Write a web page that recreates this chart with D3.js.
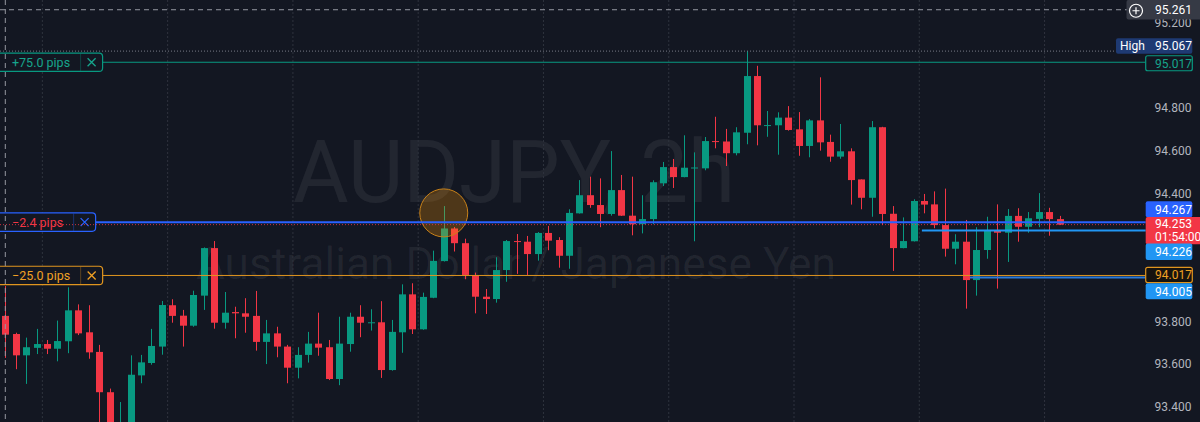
<!DOCTYPE html>
<html><head><meta charset="utf-8">
<script src="https://cdn.jsdelivr.net/npm/d3@7"></script>
<style>
html,body{margin:0;padding:0;background:#131722;overflow:hidden}
svg{display:block}
text{font-family:Roboto,"Noto Sans",sans-serif}
</style></head><body>
<svg id="c" width="1200" height="422"></svg>
<script>
// ---- data (AUDJPY, 2h candles) ----
const opens = [93.825,93.740,93.640,93.675,93.693,93.671,93.706,93.851,93.748,93.656,
93.467,93.173,93.290,93.546,93.604,93.681,93.875,93.826,93.779,93.920,
94.143,93.793,93.843,93.837,93.825,93.703,93.743,93.681,93.582,93.642,
93.695,93.678,93.529,93.693,93.821,93.793,93.795,93.571,93.748,93.926,
93.762,93.910,94.082,94.235,94.166,94.016,93.915,93.904,94.040,94.176,
94.173,94.115,94.214,94.181,94.107,94.306,94.391,94.345,94.303,94.415,
94.295,94.255,94.279,94.447,94.523,94.476,94.520,94.517,94.645,94.643,
94.588,94.684,94.950,94.719,94.719,94.755,94.700,94.622,94.742,94.641,
94.572,94.597,94.465,94.379,94.710,94.304,94.143,94.175,94.364,94.348,
94.251,94.140,94.173,93.993,94.134,94.226,94.215,94.294,94.243,94.280,
94.312,94.279];
const highs = [93.965,93.746,93.723,93.764,93.712,93.803,93.959,93.879,93.875,93.689,
93.484,93.421,93.640,93.642,93.764,93.895,93.903,93.853,93.943,94.146,
94.176,93.937,93.868,93.908,93.942,93.806,93.774,93.689,93.678,93.750,
93.840,93.712,93.821,93.840,93.875,93.856,93.894,93.806,93.973,93.978,
93.934,94.131,94.340,94.242,94.187,94.028,93.951,94.100,94.181,94.209,
94.200,94.218,94.247,94.194,94.325,94.462,94.478,94.470,94.598,94.486,
94.478,94.391,94.461,94.547,94.561,94.672,94.592,94.664,94.759,94.702,
94.710,95.067,94.998,94.786,94.780,94.809,94.781,94.748,94.944,94.675,
94.725,94.611,94.465,94.739,94.712,94.340,94.287,94.372,94.397,94.409,
94.422,94.208,94.275,94.241,94.290,94.348,94.326,94.330,94.312,94.401,
94.332,94.294];
const lows = [93.628,93.575,93.506,93.646,93.646,93.612,93.650,93.735,93.624,93.290,
93.126,93.090,93.262,93.509,93.596,93.643,93.793,93.681,93.774,93.853,
93.765,93.765,93.720,93.746,93.662,93.599,93.631,93.509,93.532,93.606,
93.638,93.524,93.500,93.657,93.725,93.756,93.534,93.568,93.652,93.740,
93.760,93.908,94.080,94.127,93.997,93.837,93.834,93.887,93.985,94.022,
94.017,94.084,94.133,94.051,94.046,94.305,94.332,94.241,94.295,94.294,
94.203,94.212,94.255,94.434,94.425,94.475,94.175,94.508,94.611,94.528,
94.578,94.630,94.625,94.665,94.581,94.694,94.576,94.569,94.600,94.548,
94.562,94.347,94.325,94.290,94.251,94.036,94.142,94.174,94.306,94.236,
94.103,94.067,93.859,93.920,94.093,93.953,94.078,94.173,94.215,94.241,
94.201,94.251];
const closes = [93.737,93.640,93.678,93.693,93.671,93.707,93.851,93.743,93.654,93.467,
93.173,93.290,93.549,93.607,93.684,93.876,93.825,93.779,93.923,94.143,
93.793,93.840,93.837,93.821,93.703,93.743,93.681,93.582,93.642,93.695,
93.676,93.529,93.695,93.821,93.793,93.795,93.571,93.750,93.926,93.762,
93.914,94.083,94.235,94.166,94.017,93.915,93.904,94.040,94.176,94.172,
94.115,94.214,94.178,94.107,94.308,94.391,94.345,94.303,94.415,94.295,
94.255,94.279,94.452,94.523,94.476,94.520,94.521,94.645,94.643,94.588,
94.686,94.950,94.719,94.720,94.755,94.697,94.622,94.742,94.639,94.572,
94.597,94.462,94.379,94.710,94.303,94.143,94.176,94.364,94.347,94.251,
94.140,94.173,93.993,94.134,94.228,94.215,94.294,94.243,94.283,94.312,
94.279,94.253];

const tickPrices = [93.4, 93.6, 93.8, 94.4, 94.6, 94.8, 95.2];
const crossPrice = 95.261, crossIdx = 0;
const highPrice = 95.067;
const pipPrices = [95.017, 94.267, 94.017];
const pipTexts = ["+75.0 pips", "\u22122.4 pips", "\u221225.0 pips"];
const lastPrice = 94.253, countdown = "01:54:00";
const rayPrices = [94.226, 94.005];
const rayStartIdx = [87.8, 92.4];
const markIdx = 42, markPrice = 94.308;
const titleText = "AUDJPY, 2h", subText = "Australian Dollar / Japanese Yen";

// ---- layout ----
const W = 1200, H = 422, paneRight = 1116, labX = 1145.7;
const UP = "#089981", DOWN = "#f23645";
const svg = d3.select("#c");
const x = d3.scaleLinear().domain([0, 101]).range([5.3, 1059.7]);
const y = d3.scaleLinear().domain([93.4, 95.2]).range([406.5, 22.74]);
const fmt = d3.format(".3f");

svg.append("rect").attr("width", W).attr("height", H).attr("fill", "#131722");

// watermark
svg.append("text").text(titleText).attr("x", 514).attr("y", 202)
  .attr("text-anchor", "middle").attr("font-size", 88)
  .attr("textLength", 442).attr("lengthAdjust", "spacingAndGlyphs")
  .attr("fill", "rgba(255,255,255,0.065)");
svg.append("text").text(subText).attr("x", 516).attr("y", 279)
  .attr("text-anchor", "middle").attr("font-size", 44)
  .attr("textLength", 640).attr("lengthAdjust", "spacingAndGlyphs")
  .attr("fill", "rgba(255,255,255,0.065)");

// vertical grid (every 12 bars)
const gridIdx = d3.range(3.55, 102, 12);
svg.append("g").selectAll("line").data(gridIdx).join("line")
  .attr("x1", d => x(d)).attr("x2", d => x(d)).attr("y1", 0).attr("y2", H)
  .attr("stroke", "#2f333e").attr("stroke-dasharray", "2,2");

// candles
const idx = d3.range(opens.length);
const g = svg.append("g");
g.selectAll("line.w").data(idx).join("line").attr("class", "w")
  .attr("x1", i => Math.round(x(i)) + 0.5).attr("x2", i => Math.round(x(i)) + 0.5)
  .attr("y1", i => y(highs[i])).attr("y2", i => y(lows[i]))
  .attr("stroke", i => closes[i] >= opens[i] ? UP : DOWN);
g.selectAll("rect.b").data(idx).join("rect").attr("class", "b")
  .attr("x", i => Math.round(x(i)) - 3)
  .attr("width", 7)
  .attr("y", i => y(Math.max(opens[i], closes[i])))
  .attr("height", i => Math.max(1, Math.abs(y(opens[i]) - y(closes[i]))))
  .attr("fill", i => closes[i] >= opens[i] ? UP : DOWN);

// highlight circle
svg.append("circle").attr("cx", x(markIdx)).attr("cy", y(markPrice)).attr("r", 24)
  .attr("fill", "rgba(255,152,0,0.25)").attr("stroke", "#c98219").attr("stroke-width", 1);

// high dotted line
svg.append("line").attr("x1", 0).attr("x2", paneRight).attr("y1", y(highPrice)).attr("y2", y(highPrice))
  .attr("stroke", "#787b86").attr("stroke-dasharray", "1,2");

// rays
const rayColors = ["#2196f3", "#2a7ad8"];
rayPrices.forEach((p, k) => {
  svg.append("line").attr("x1", x(rayStartIdx[k])).attr("x2", labX)
    .attr("y1", y(p)).attr("y2", y(p)).attr("stroke", rayColors[k]).attr("stroke-width", 2);
});

// pip levels with left labels
const pipStroke = [UP, "#2962ff", "#e0951f"];
const pipText = ["#16a58c", DOWN, "#f0a124"];
const pipX = ["#16a58c", "#2962ff", "#f0a124"];
pipPrices.forEach((p, k) => {
  const yy = y(p) + 0.5;
  const lg = svg.append("g");
  const t = lg.append("text").text(pipTexts[k]).attr("x", 12).attr("y", yy).attr("dy", "0.36em")
    .attr("font-size", 12.5).attr("fill", pipText[k]);
  const tw = t.node().getComputedTextLength();
  const sep = 12 + tw + 10.5, right = sep + 22;
  svg.append("line").attr("x1", right).attr("x2", labX).attr("y1", yy).attr("y2", yy)
    .attr("stroke", pipStroke[k]).attr("stroke-width", k === 1 ? 2 : 1);
  lg.insert("rect", "text").attr("x", -4).attr("y", yy - 9.2).attr("width", right + 4).attr("height", 18.4)
    .attr("rx", 3.5).attr("fill", "#131722").attr("stroke", pipStroke[k]).attr("stroke-width", 1.2);
  lg.append("line").attr("x1", sep).attr("x2", sep).attr("y1", yy - 8.6).attr("y2", yy + 8.6)
    .attr("stroke", pipStroke[k]).attr("stroke-opacity", 0.35);
  const cx = (sep + right) / 2;
  lg.append("path").attr("d", `M${cx-4},${yy-4}L${cx+4},${yy+4}M${cx+4},${yy-4}L${cx-4},${yy+4}`)
    .attr("stroke", pipX[k]).attr("stroke-width", 1.3).attr("fill", "none");
});

// current price dotted line
svg.append("line").attr("x1", 0).attr("x2", labX).attr("y1", y(lastPrice)).attr("y2", y(lastPrice))
  .attr("stroke", DOWN).attr("stroke-opacity", 0.8).attr("stroke-dasharray", "1,2");

// crosshair
svg.append("line").attr("x1", x(crossIdx)).attr("x2", x(crossIdx)).attr("y1", 0).attr("y2", H)
  .attr("stroke", "#9598a1").attr("stroke-dasharray", "5,4");
svg.append("line").attr("x1", 0).attr("x2", 1127).attr("y1", y(crossPrice)).attr("y2", y(crossPrice))
  .attr("stroke", "#9598a1").attr("stroke-dasharray", "5,4");

// right axis tick labels
svg.append("g").selectAll("text").data(tickPrices).join("text")
  .attr("x", 1154.5).attr("y", d => y(d)).attr("dy", "0.36em")
  .attr("font-size", 12).attr("fill", "#b2b5be").text(d => fmt(d));

// right axis labels (offsets resolve label collisions)
function axisLabel(price, off, x0, x1, h, fill, stroke, color, lines) {
  const cy = y(price) + off;
  svg.append("rect").attr("x", x0).attr("y", cy - h / 2).attr("width", x1 - x0).attr("height", h)
    .attr("rx", 2).attr("fill", fill).attr("stroke", stroke || "none").attr("stroke-width", 1.2);
  lines.forEach((s, j) => {
    svg.append("text").attr("x", 1155).attr("y", cy + (j - (lines.length - 1) / 2) * 13).attr("dy", "0.36em")
      .attr("font-size", 12).attr("fill", color).text(s);
  });
  return cy;
}
// crosshair price
const cc = axisLabel(crossPrice, 0, 1126.5, 1204, 19.5, "#363a45", null, "#ffffff", [fmt(crossPrice)]);
svg.append("circle").attr("cx", 1136).attr("cy", cc + 1).attr("r", 6.5).attr("fill", "none")
  .attr("stroke", "#ffffff").attr("stroke-width", 1.2);
svg.append("path").attr("d", `M1132.5,${cc+1}H1139.5M1136,${cc-2.5}V${cc+4.5}`)
  .attr("stroke", "#ffffff").attr("stroke-width", 1.2);
// high
const hc = axisLabel(highPrice, -5, 1116, 1192.3, 15.5, "#1e3a73", null, "#ffffff", [fmt(highPrice)]);
svg.append("text").attr("x", 1120).attr("y", hc).attr("dy", "0.36em").attr("font-size", 12)
  .attr("fill", "#ffffff").text("High");
axisLabel(pipPrices[0], 1.5, labX, 1192.3, 15, "#131722", UP, "#16a58c", [fmt(pipPrices[0])]);
axisLabel(pipPrices[1], -12.4, labX, 1192.3, 16, "#2962ff", null, "#ffffff", [fmt(pipPrices[1])]);
axisLabel(lastPrice, 6, labX, 1204, 27.3, DOWN, null, "#ffffff", [fmt(lastPrice), countdown]);
axisLabel(rayPrices[0], 21.4, labX, 1192.3, 16.5, "#2196f3", null, "#ffffff", [fmt(rayPrices[0])]);
axisLabel(pipPrices[2], 0, labX, 1192.3, 15.3, "#16130f", "#e0951f", "#f0a124", [fmt(pipPrices[2])]);
axisLabel(rayPrices[1], 13.7, labX, 1192.3, 16, "#2196f3", null, "#ffffff", [fmt(rayPrices[1])]);
</script>
</body></html>
